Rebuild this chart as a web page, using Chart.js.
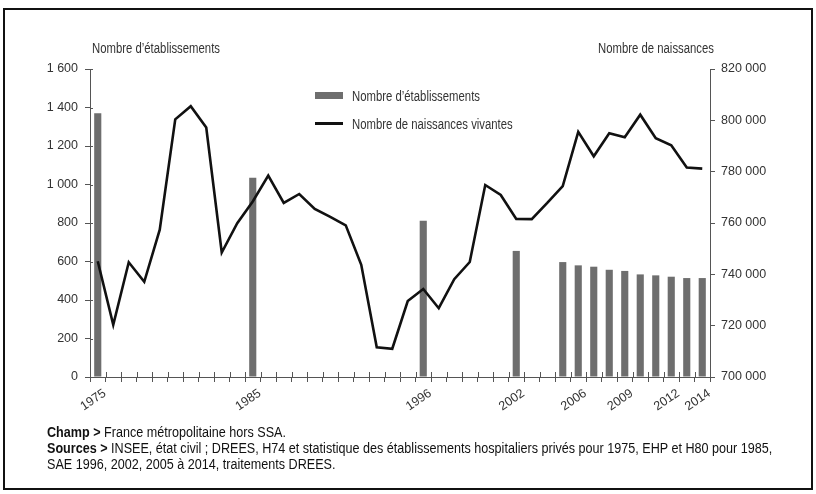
<!DOCTYPE html>
<html lang="fr">
<head>
<meta charset="utf-8">
<title>Établissements et naissances</title>
<script src="https://cdn.jsdelivr.net/npm/chart.js@4.4.1/dist/chart.umd.min.js"></script>
<style>
  html, body { margin: 0; padding: 0; background: #fff; }
  #wrap { position: relative; width: 816px; height: 494px; overflow: hidden; background: #fff; }
  #c { position: absolute; left: 0; top: 0; }
  .frame { position: absolute; left: 3px; top: 8px; width: 806px; height: 478px; border: 2px solid #111; }
  .t { position: absolute; white-space: nowrap; font-family: 'Liberation Sans', Arial, sans-serif; color: #333; font-size: 14px; line-height: 14px; transform: scaleX(0.81); transform-origin: 0 50%; }
  .note { position: absolute; white-space: nowrap; font-family: 'Liberation Sans', Arial, sans-serif; color: #111; font-size: 14px; line-height: 16px; left: 47px; transform-origin: 0 50%; }
  .note b { font-weight: bold; }
  .sw { position: absolute; }
</style>
</head>
<body>
<div id="wrap">
  <canvas id="c" width="816" height="494"></canvas>
  <div class="frame"></div>
  <div class="t" style="left:92px; top:41px;">Nombre d’établissements</div>
  <div class="t" style="left:598px; top:41px;">Nombre de naissances</div>
  <div class="sw" style="left:315px; top:92px; width:28px; height:7px; background:#6e6e6e;"></div>
  <div class="t" style="left:352px; top:89px;">Nombre d’établissements</div>
  <div class="sw" style="left:315px; top:122px; width:28px; height:3px; background:#111;"></div>
  <div class="t" style="left:352px; top:117px;">Nombre de naissances vivantes</div>
  <div class="note" id="n1" style="top:424px;"><b>Champ &gt;</b> France métropolitaine hors SSA.</div>
  <div class="note" id="n2" style="top:440px;"><b>Sources &gt;</b> INSEE, état civil ; DREES, H74 et statistique des établissements hospitaliers privés pour 1975, EHP et H80 pour 1985,</div>
  <div class="note" id="n3" style="top:456px;">SAE 1996, 2002, 2005 à 2014, traitements DREES.</div>
</div>
<script>
const years = ['1975','1976','1977','1978','1979','1980','1981','1982','1983','1984',
               '1985','1986','1987','1988','1989','1990','1991','1992','1993','1994',
               '1995','1996','1997','1998','1999','2000','2001','2002','2003','2004',
               '2005','2006','2007','2008','2009','2010','2011','2012','2013','2014'];

// Nombre d'établissements (only surveyed years)
const etablissements = [1370, null, null, null, null, null, null, null, null, null,
                        1035, null, null, null, null, null, null, null, null, null,
                        null, 812, null, null, null, null, null, 655, null, null,
                        597, 580, 573, 557, 551, 533, 528, 521, 514, 514];

// Nombre de naissances vivantes
const naissances = [745100, 720300, 744700, 737100, 757400, 800400, 805500, 797200, 748500, 759900,
                    768400, 778500, 767800, 771300, 765500, 762400, 759100, 743700, 711600, 711000,
                    729600, 734300, 726800, 738100, 744800, 774800, 770900, 761600, 761500, 767800,
                    774400, 795500, 786000, 795000, 793400, 802200, 793000, 790300, 781600, 781200];

const shownYears = ['1975','1985','1996','2002','2006','2009','2012','2014'];
const leftTicks = [0, 200, 400, 600, 800, 1000, 1200, 1400, 1600];
const rightTicks = [700000, 720000, 740000, 760000, 780000, 800000, 820000];

const FONT = "'Liberation Sans', Arial, sans-serif";
const axisColor = '#555';
const textColor = '#333';

// fit the sources line to the reference width; same condensation for all note lines
(function () {
  const n2 = document.getElementById('n2');
  const s = 725 / n2.scrollWidth;
  ['n1', 'n2', 'n3'].forEach(id => { document.getElementById(id).style.transform = 'scaleX(' + s + ')'; });
})();

function fmt(v) {
  return String(v).replace(/\B(?=(\d{3})+(?!\d))/g, ' ');
}

const crossTicks = {
  id: 'crossTicks',
  afterDraw(chart) {
    const ctx = chart.ctx, xs = chart.scales.x, ys = chart.scales.y;
    const a = chart.chartArea;
    ctx.save();
    ctx.strokeStyle = axisColor;
    ctx.lineWidth = 1;
    for (let i = 1; i < years.length; i++) {
      const px = Math.round((xs.getPixelForValue(i - 1) + xs.getPixelForValue(i)) / 2) + 0.5;
      ctx.beginPath(); ctx.moveTo(px, a.bottom - 5); ctx.lineTo(px, a.bottom); ctx.stroke();
    }
    leftTicks.forEach(v => {
      const py = Math.round(ys.getPixelForValue(v)) + 0.5;
      ctx.beginPath(); ctx.moveTo(a.left, py); ctx.lineTo(a.left + 3, py); ctx.stroke();
    });
    ctx.restore();
  }
};

new Chart(document.getElementById('c'), {
  data: {
    labels: years,
    datasets: [
      {
        type: 'line',
        label: 'Nombre de naissances vivantes',
        data: naissances,
        yAxisID: 'y1',
        borderColor: '#111',
        borderWidth: 2.6,
        pointRadius: 0,
        tension: 0,
        order: 1
      },
      {
        type: 'bar',
        label: 'Nombre d’établissements',
        data: etablissements,
        yAxisID: 'y',
        backgroundColor: '#6e6e6e',
        categoryPercentage: 1,
        barPercentage: 0.46,
        order: 2
      }
    ]
  },
  options: {
    responsive: false,
    devicePixelRatio: 1,
    animation: false,
    layout: { padding: { top: 69, left: 0, right: 0, bottom: 0 } },
    plugins: { legend: { display: false }, tooltip: { enabled: false } },
    scales: {
      x: {
        type: 'category',
        offset: true,
        grid: { offset: true, drawOnChartArea: false, tickLength: 5, color: axisColor },
        border: { color: axisColor, width: 1 },
        ticks: {
          autoSkip: false, minRotation: 34, maxRotation: 34, labelOffset: 7, padding: 4,
          color: textColor, font: { family: FONT, size: 12.5 },
          callback: (v, i) => shownYears.includes(years[i]) ? years[i] : ''
        },
        afterFit: s => { s.height = 117; }
      },
      y: {
        position: 'left',
        min: 0, max: 1600,
        afterBuildTicks: s => { s.ticks = leftTicks.map(v => ({ value: v })); },
        grid: { drawOnChartArea: false, tickLength: 5, color: axisColor },
        border: { color: axisColor, width: 1 },
        ticks: { padding: 7, color: textColor, font: { family: FONT, size: 12.5 }, callback: v => fmt(v) },
        afterFit: s => { s.width = 90; }
      },
      y1: {
        position: 'right',
        min: 700000, max: 820000,
        afterBuildTicks: s => { s.ticks = rightTicks.map(v => ({ value: v })); },
        grid: { drawOnChartArea: false, tickLength: 5, color: axisColor },
        border: { color: axisColor, width: 1 },
        ticks: { padding: 6, color: textColor, font: { family: FONT, size: 12.5 }, callback: v => fmt(v) },
        afterFit: s => { s.width = 106; }
      }
    }
  },
  plugins: [crossTicks]
});
</script>
</body>
</html>
